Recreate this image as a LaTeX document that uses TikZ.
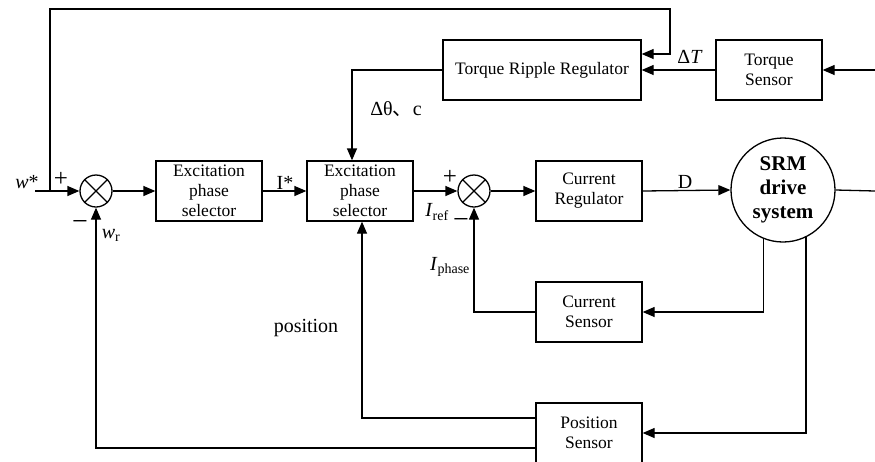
\documentclass[tikz,border=0pt]{standalone}
\usepackage{fontspec}
\setmainfont{Liberation Serif}
\newfontfamily\cjk{Noto Sans CJK SC}
\usetikzlibrary{arrows.meta}
\begin{document}
\begin{tikzpicture}[x=1pt,y=-1pt,line width=1.3pt,
  arr/.style={-{Triangle[length=12pt,width=10pt]}},
  blk/.style={draw,rectangle,minimum width=106pt,minimum height=60pt,inner sep=0pt,align=center,font=\fontsize{17.5}{20}\selectfont},
  sumj/.style={draw,circle,minimum size=32pt,inner sep=0pt},
  lbl/.style={font=\fontsize{20}{22}\selectfont,inner sep=0pt},
  sgn/.style={font=\fontsize{25}{25}\selectfont,inner sep=0pt},
  msgn/.style={font=\fontsize{28}{28}\selectfont,inner sep=0pt}]
\useasboundingbox (0,0) rectangle (875,461);
% blocks
\node[blk] (es1) at (209,191) {Excitation\\phase\\selector};
\node[blk] (es2) at (360,191) {Excitation\\phase\\selector};
\node[blk,minimum width=198pt] (trr) at (542,70) {Torque Ripple Regulator};
\node[blk] (ts) at (769,70) {Torque\\Sensor};
\node[blk] (cr) at (589,191) {Current\\Regulator};
\node[blk] (cs) at (589,312) {Current\\Sensor};
\node[blk] (ps) at (589,433) {Position\\Sensor};
\node[sumj] (s1) at (96,191) {};
\node[sumj] (s2) at (474,191) {};
\draw (s1.45) -- (s1.225) (s1.135) -- (s1.315);
\draw (s2.45) -- (s2.225) (s2.135) -- (s2.315);
\node[draw,circle,minimum size=104pt,inner sep=0pt,align=center,font=\bfseries\fontsize{21}{24}\selectfont] (srm) at (783,190) {SRM\\drive\\system};
% coordinates
\coordinate (win) at (35,191);
\coordinate (tap) at (50,191);
\coordinate (tl) at (50,9);
\coordinate (tr) at (670,9);
\coordinate (rin) at (875,70);
\coordinate (rout) at (875,191);
% connectors
\draw[arr] (win) -- (s1.west);
\draw[arr] (tap) -- (tl) -- (tr) |- ([yshift=16pt]trr.east);
\draw[arr] (ts.west) -- (trr.east);
\draw[arr] (rin) -- (ts.east);
\draw[arr] (trr.west) -| ([xshift=-8pt]es2.north);
\draw[arr] (s1.east) -- (es1.west);
\draw[arr] (es1.east) -- (es2.west);
\draw[arr] (es2.east) -- (s2.west);
\draw[arr] (s2.east) -- (cr.west);
\draw[arr] (cr.east) -- (srm.west);
\draw (srm.east) -- (rout);
\draw[arr] (srm.248.6) |- (cs.east);
\draw[arr] (srm.296) |- (ps.east);
\draw[arr] (cs.west) -| (s2.south);
\draw[arr] ([yshift=15pt]ps.west) -| ([xshift=2pt]es2.south);
\draw[arr] ([yshift=-15pt]ps.west) -| (s1.south);
% labels
\node[lbl] (lw) at (27,182) {\textit{w}*};
\node[sgn] (lp1) at (61,179) {+};
\node[msgn] (lm1) at (80,225) {−};
\node[lbl] (lwr) at (111,235) {\textit{w}\textsubscript{r}};
\node[lbl] (lis) at (285,183) {I*};
\node[lbl] (ldt) at (396,109) {Δθ{\cjk 、}c};
\node[sgn] (lp2) at (450,177) {+};
\node[lbl] (lir) at (437,212) {\textit{I}\textsubscript{ref}};
\node[msgn] (lm2) at (461,223) {−};
\node[lbl] (lip) at (450,267) {\textit{I}\textsubscript{phase}};
\node[lbl] (ld) at (685,182) {D};
\node[lbl] (ldT) at (690,57) {Δ\textit{T}};
\node[lbl] (lpos) at (306,328) {position};
\end{tikzpicture}
\end{document}
